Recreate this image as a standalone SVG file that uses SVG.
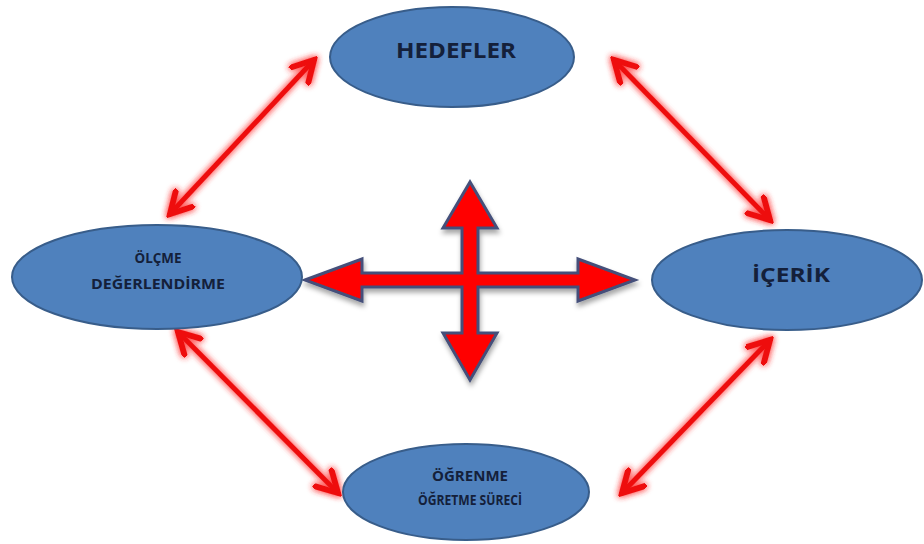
<svg xmlns="http://www.w3.org/2000/svg" width="924" height="544" viewBox="0 0 924 544">
<defs>
<style>
.node ellipse{fill:#4f81bd;stroke:#385d8a;stroke-width:2}
.lbl{font-family:"Open Sans","Liberation Sans",sans-serif;font-weight:bold;fill:#14203a;text-anchor:middle}
.link{stroke:#ee1111;stroke-width:5;fill:none;stroke-linecap:round;marker-start:url(#head);marker-end:url(#head)}
.cross{fill:#ff0000;stroke:#44507a;stroke-width:3;stroke-linejoin:miter}
</style>
<marker id="head" viewBox="0 0 12 12" refX="10" refY="6" markerWidth="5.5" markerHeight="5.5" orient="auto-start-reverse" markerUnits="strokeWidth">
<path d="M1,1 L10,6 L1,11" fill="none" stroke="#ee1111" stroke-width="2.6" stroke-linecap="round" stroke-linejoin="miter"/>
</marker>
<filter id="glow" x="-20%" y="-20%" width="140%" height="140%">
<feGaussianBlur in="SourceAlpha" stdDeviation="3" result="b"/>
<feFlood flood-color="#ff3b3b" flood-opacity="0.75"/>
<feComposite in2="b" operator="in" result="g"/>
<feMerge><feMergeNode in="g"/><feMergeNode in="g"/><feMergeNode in="SourceGraphic"/></feMerge>
</filter>
<filter id="shadow" x="-20%" y="-20%" width="140%" height="140%">
<feGaussianBlur in="SourceAlpha" stdDeviation="2.5"/>
<feOffset dx="1" dy="4" result="o"/>
<feFlood flood-color="#000" flood-opacity="0.35"/>
<feComposite in2="o" operator="in" result="s"/>
<feMerge><feMergeNode in="s"/><feMergeNode in="SourceGraphic"/></feMerge>
</filter>
</defs>
<rect width="924" height="544" fill="#ffffff"/>
<g id="connectors" filter="url(#glow)">
<line class="link" x1="170" y1="214" x2="314" y2="60"/>
<line class="link" x1="614" y1="60" x2="770" y2="220"/>
<line class="link" x1="178" y1="332" x2="338" y2="493"/>
<line class="link" x1="622" y1="493" x2="770" y2="340"/>
</g>
<g id="cross" filter="url(#shadow)">
<path class="cross" d="M305,280 L362,259 L362,273 L462,273 L462,228 L443,228 L470,182 L497,228 L478,228 L478,273 L578,273 L578,259 L635,280 L578,301 L578,287 L478,287 L478,333 L497,333 L470,380 L443,333 L462,333 L462,287 L362,287 L362,301 Z"/>
</g>
<g id="hedefler" class="node">
<ellipse cx="452" cy="57" rx="122" ry="50"/>
<text class="lbl" x="456" y="58" font-size="21" textLength="120" lengthAdjust="spacingAndGlyphs">HEDEFLER</text>
</g>
<g id="olcme" class="node">
<ellipse cx="157" cy="277" rx="145" ry="52"/>
<text class="lbl" x="158" y="263" font-size="15" textLength="47" lengthAdjust="spacingAndGlyphs">ÖLÇME</text>
<text class="lbl" x="158" y="289" font-size="15" textLength="134" lengthAdjust="spacingAndGlyphs">DEĞERLENDİRME</text>
</g>
<g id="icerik" class="node">
<ellipse cx="787" cy="280" rx="135" ry="50"/>
<text class="lbl" x="791" y="282" font-size="20" textLength="78" lengthAdjust="spacingAndGlyphs">İÇERİK</text>
</g>
<g id="ogrenme" class="node">
<ellipse cx="466" cy="492" rx="123" ry="48"/>
<text class="lbl" x="470" y="481" font-size="14" textLength="76" lengthAdjust="spacingAndGlyphs">ÖĞRENME</text>
<text class="lbl" x="470" y="505" font-size="14" textLength="104" lengthAdjust="spacingAndGlyphs">ÖĞRETME  SÜRECİ</text>
</g>
</svg>
